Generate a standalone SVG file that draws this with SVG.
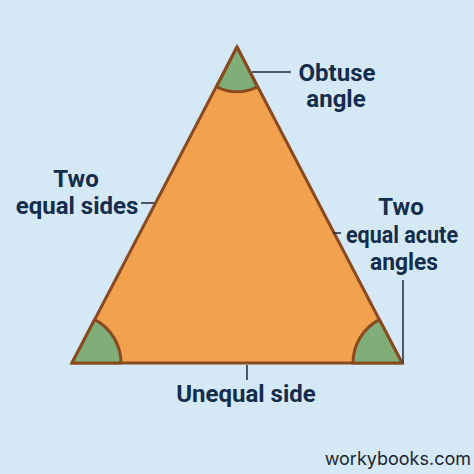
<svg xmlns="http://www.w3.org/2000/svg" width="474" height="474" viewBox="0 0 474 474">
<style>
.lbl{font-family:Roboto,"Liberation Sans",sans-serif;font-weight:bold;font-size:24px;fill:#152d4c;text-anchor:middle}
.ldr{stroke:#1b2a3a;stroke-width:1.5;fill:none}
.ang{fill:#7fae78;stroke:#8a4a1f;stroke-width:3}
</style>
<rect width="474" height="474" fill="#d4e8f5"/>
<g id="triangle">
<polygon points="237,47 72,363 402,363" fill="#f2a24f" stroke="#8a4a1f" stroke-width="3" stroke-linejoin="round"/>
</g>
<g id="angle-top"><path class="ang" d="M237,47 L216.6,86.9 A45,45 0 0 0 257.4,86.9 Z"/></g>
<g id="angle-left"><path class="ang" d="M72,363 L94.7,319.6 A49,49 0 0 1 121,363 Z"/></g>
<g id="angle-right"><path class="ang" d="M402,363 L379.3,319.6 A49,49 0 0 0 353,363 Z"/></g>
<g id="connectors">
<line class="ldr" x1="252" y1="72" x2="291" y2="72"/>
<line class="ldr" x1="141" y1="203" x2="154" y2="203"/>
<line class="ldr" x1="333" y1="233" x2="341" y2="233"/>
<line class="ldr" x1="403" y1="280" x2="403" y2="363"/>
<line class="ldr" x1="247" y1="365" x2="247" y2="380"/>
</g>
<g id="label-obtuse"><text class="lbl" x="337" y="81">Obtuse</text><text class="lbl" x="336" y="107">angle</text></g>
<g id="label-sides"><text class="lbl" x="76" y="187">Two</text><text class="lbl" x="77" y="214">equal sides</text></g>
<g id="label-acute"><text class="lbl" x="401" y="215">Two</text><text class="lbl" x="402" y="243" textLength="112" lengthAdjust="spacingAndGlyphs">equal acute</text><text class="lbl" x="404" y="270" textLength="68" lengthAdjust="spacingAndGlyphs">angles</text></g>
<g id="label-unequal"><text class="lbl" x="246" y="402">Unequal side</text></g>
<text x="471" y="465" font-family="Inter,'Liberation Sans',sans-serif" font-size="18" fill="#1c2630" text-anchor="end">workybooks.com</text>
</svg>
